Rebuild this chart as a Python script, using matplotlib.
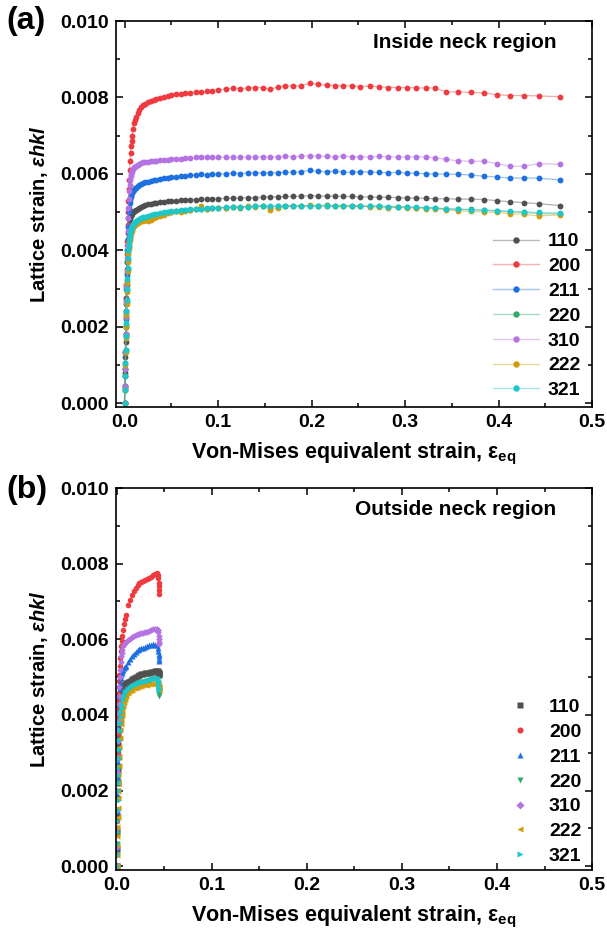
import matplotlib
matplotlib.use("Agg")
import matplotlib.pyplot as plt
import numpy as np
from matplotlib.colors import to_rgba
from matplotlib.ticker import MultipleLocator

plt.rcParams['font.family'] = ['Liberation Sans', 'DejaVu Sans']
plt.rcParams['font.weight'] = 'bold'
plt.rcParams['mathtext.fontset'] = 'custom'
plt.rcParams['mathtext.rm'] = 'Liberation Sans:bold'
plt.rcParams['mathtext.it'] = 'Liberation Sans:italic'
plt.rcParams['mathtext.bf'] = 'Liberation Sans:bold'

labels = ['110', '200', '211', '220', '310', '222', '321']
colors = ['#505050', '#ef3b3f', '#1e6fe0', '#2fa86b', '#b472e3', '#d09c08', '#1cc6c9']
markers_b = ['s', 'o', '^', 'v', 'D', '<', '>']

# ---- (a) inside neck region, lattice strain in units of 1e-3 ----
x_a = [0, 0.0003, 0.0006, 0.0009, 0.0012, 0.0015, 0.0018, 0.0021, 0.0024, 0.0027,
       0.003, 0.0034, 0.0038, 0.0042, 0.0046, 0.005, 0.0055, 0.006, 0.0065, 0.007,
       0.0075, 0.008, 0.009, 0.010,
       0.011, 0.012, 0.014, 0.016, 0.018, 0.020, 0.022, 0.025, 0.028, 0.031,
       0.034, 0.038, 0.042, 0.046, 0.050, 0.055, 0.060, 0.065, 0.070, 0.076,
       0.082, 0.088, 0.094, 0.100,
       0.108, 0.116, 0.124, 0.132, 0.140, 0.148, 0.156, 0.164, 0.172, 0.180,
       0.189, 0.198, 0.207, 0.216, 0.225, 0.234, 0.243, 0.252, 0.262, 0.272,
       0.282, 0.292, 0.302, 0.312, 0.322, 0.332, 0.344, 0.357, 0.370, 0.384,
       0.398, 0.412, 0.427, 0.443, 0.466]

a_110 = [0, 0.4, 0.8, 1.2, 1.6, 2.0, 2.4, 2.75, 3.1, 3.4, 3.7, 4.0, 4.25, 4.45, 4.6, 4.7,
         4.78, 4.84, 4.89, 4.93, 4.96, 4.98, 5.0, 5.02,
         5.04, 5.06, 5.09, 5.12, 5.14, 5.16, 5.18, 5.20, 5.22, 5.23, 5.25, 5.26, 5.27, 5.28,
         5.29, 5.30, 5.31, 5.32, 5.33, 5.33, 5.34, 5.34, 5.35, 5.35,
         5.36, 5.37, 5.37, 5.38, 5.38, 5.39, 5.40, 5.40, 5.41, 5.41, 5.42, 5.43, 5.42, 5.42,
         5.42, 5.41, 5.41, 5.40, 5.40, 5.39, 5.39, 5.38, 5.37, 5.37, 5.36, 5.35, 5.35, 5.34,
         5.34, 5.33, 5.30, 5.27, 5.25, 5.22, 5.17]
a_200 = [0, 0.45, 0.9, 1.35, 1.8, 2.25, 2.7, 3.1, 3.5, 3.9, 4.25, 4.65, 5.0, 5.3, 5.6, 5.85,
         6.1, 6.35, 6.55, 6.72, 6.86, 6.98, 7.17, 7.32,
         7.42, 7.5, 7.6, 7.68, 7.74, 7.79, 7.83, 7.87, 7.91, 7.94, 7.97, 7.99, 8.02, 8.04,
         8.06, 8.08, 8.09, 8.11, 8.12, 8.14, 8.15, 8.16, 8.18, 8.19,
         8.22, 8.24, 8.23, 8.25, 8.26, 8.26, 8.21, 8.28, 8.29, 8.30, 8.31, 8.38, 8.34, 8.32,
         8.31, 8.31, 8.30, 8.28, 8.30, 8.28, 8.26, 8.26, 8.26, 8.25, 8.25, 8.25, 8.14, 8.15,
         8.13, 8.12, 8.07, 8.05, 8.05, 8.04, 8.02]
a_211 = [0, 0.45, 0.9, 1.35, 1.8, 2.2, 2.6, 3.0, 3.35, 3.7, 4.0, 4.3, 4.6, 4.85, 5.0, 5.12,
         5.24, 5.33, 5.4, 5.45, 5.49, 5.52, 5.56, 5.59,
         5.62, 5.64, 5.68, 5.71, 5.74, 5.76, 5.78, 5.80, 5.82, 5.84, 5.85, 5.87, 5.88, 5.89,
         5.91, 5.92, 5.94, 5.95, 5.96, 5.97, 5.99, 5.98, 6.00, 6.01,
         6.00, 6.02, 6.01, 6.02, 6.03, 6.02, 6.03, 6.03, 6.05, 6.04, 6.06, 6.09, 6.07, 6.06,
         6.07, 6.05, 6.04, 6.06, 6.05, 6.04, 6.03, 6.04, 6.02, 6.02, 6.00, 6.00, 5.99, 5.99,
         5.97, 5.94, 5.92, 5.89, 5.89, 5.89, 5.84]
a_220 = [0, 0.35, 0.7, 1.05, 1.4, 1.75, 2.05, 2.35, 2.65, 2.95, 3.2, 3.5, 3.75, 3.95, 4.1, 4.23,
         4.33, 4.41, 4.47, 4.52, 4.56, 4.6, 4.65, 4.69,
         4.72, 4.74, 4.77, 4.79, 4.81, 4.83, 4.85, 4.87, 4.89, 4.91, 4.93, 4.95, 4.97, 4.99,
         5.00, 5.02, 5.03, 5.05, 5.06, 5.07, 5.08, 5.09, 5.10, 5.11,
         5.12, 5.13, 5.12, 5.14, 5.15, 5.17, 5.14, 5.16, 5.15, 5.17, 5.16, 5.17, 5.16, 5.18,
         5.16, 5.16, 5.17, 5.15, 5.15, 5.16, 5.14, 5.13, 5.14, 5.12, 5.12, 5.11, 5.09, 5.08,
         5.07, 5.05, 5.04, 5.01, 4.99, 4.96, 4.95]
a_310 = [0, 0.45, 0.9, 1.35, 1.8, 2.25, 2.65, 3.05, 3.45, 3.8, 4.15, 4.5, 4.85, 5.1, 5.35, 5.55,
         5.72, 5.85, 5.94, 6.0, 6.05, 6.09, 6.14, 6.17,
         6.19, 6.21, 6.24, 6.26, 6.28, 6.30, 6.31, 6.32, 6.33, 6.34, 6.35, 6.36, 6.37, 6.37,
         6.38, 6.39, 6.40, 6.41, 6.42, 6.43, 6.44, 6.44, 6.43, 6.43,
         6.44, 6.43, 6.43, 6.44, 6.44, 6.45, 6.44, 6.45, 6.46, 6.45, 6.46, 6.48, 6.46, 6.46,
         6.45, 6.47, 6.45, 6.45, 6.44, 6.46, 6.45, 6.44, 6.44, 6.45, 6.44, 6.42, 6.38, 6.34,
         6.33, 6.33, 6.27, 6.20, 6.20, 6.27, 6.25]
a_222 = [0, 0.35, 0.7, 1.0, 1.35, 1.7, 2.0, 2.3, 2.6, 2.9, 3.15, 3.45, 3.7, 3.9, 4.05, 4.18,
         4.28, 4.36, 4.42, 4.47, 4.51, 4.55, 4.6, 4.63,
         4.66, 4.68, 4.71, 4.74, 4.76, 4.77, 4.79, 4.78, 4.80, 4.84, 4.86, 4.90, 4.93, 4.97,
         5.00, 5.02, 4.99, 5.04, 5.06, 5.08, 5.15, 5.09, 5.12, 5.11,
         5.12, 5.14, 5.13, 5.16, 5.14, 5.17, 5.06, 5.12, 5.15, 5.17, 5.16, 5.18, 5.16, 5.17,
         5.15, 5.16, 5.15, 5.16, 5.14, 5.14, 5.12, 5.13, 5.11, 5.11, 5.09, 5.09, 5.06, 5.04,
         5.02, 5.00, 4.99, 4.96, 4.94, 4.90, 4.93]
a_321 = [0, 0.35, 0.7, 1.05, 1.4, 1.75, 2.1, 2.4, 2.7, 3.0, 3.25, 3.55, 3.8, 4.0, 4.15, 4.28,
         4.38, 4.46, 4.52, 4.57, 4.61, 4.64, 4.69, 4.72,
         4.75, 4.77, 4.80, 4.83, 4.85, 4.87, 4.88, 4.90, 4.92, 4.94, 4.96, 4.98, 4.99, 5.01,
         5.02, 5.04, 5.05, 5.06, 5.07, 5.08, 5.09, 5.10, 5.11, 5.12,
         5.13, 5.13, 5.14, 5.14, 5.15, 5.15, 5.16, 5.15, 5.16, 5.16, 5.17, 5.16, 5.17, 5.17,
         5.16, 5.17, 5.16, 5.16, 5.15, 5.15, 5.14, 5.14, 5.13, 5.13, 5.12, 5.11, 5.08, 5.07,
         5.06, 5.05, 5.03, 5.02, 5.01, 4.99, 4.98]

# ---- (b) outside neck region, lattice strain in units of 1e-3 ----
x_b = [0, 0.0002, 0.0004, 0.0006, 0.0008, 0.001, 0.0012, 0.0014, 0.0016, 0.0018,
       0.002, 0.0023, 0.0026, 0.003, 0.0035, 0.004, 0.0045, 0.005, 0.0055, 0.006,
       0.007, 0.008, 0.009, 0.010,
       0.012, 0.014, 0.016, 0.018, 0.020, 0.022, 0.024, 0.026, 0.028, 0.030,
       0.032, 0.034, 0.036, 0.038, 0.040, 0.042,
       0.0435, 0.044, 0.0443, 0.0446, 0.0448, 0.045]

b_110 = [0, 0.45, 0.9, 1.35, 1.8, 2.2, 2.55, 2.9, 3.2, 3.45, 3.65, 3.9, 4.1, 4.3, 4.45, 4.55,
         4.62, 4.67, 4.7, 4.73, 4.77, 4.8, 4.82, 4.84,
         4.87, 4.91, 4.95, 4.98, 5.01, 5.04, 5.06, 5.08, 5.09, 5.10, 5.11, 5.12, 5.13, 5.14,
         5.15, 5.16,
         5.16, 5.14, 5.12, 5.1, 5.08, 5.06]
b_200 = [0, 0.6, 1.2, 1.8, 2.4, 3.0, 3.5, 3.95, 4.2, 4.4, 4.55, 4.75, 4.9, 5.05, 5.3, 5.5,
         5.68, 5.82, 5.95, 6.08, 6.25, 6.4, 6.53, 6.65,
         6.9, 7.05, 7.17, 7.27, 7.36, 7.43, 7.48, 7.52, 7.55, 7.58, 7.6, 7.62, 7.66, 7.70,
         7.73, 7.74,
         7.70, 7.62, 7.5, 7.4, 7.3, 7.2]
b_211 = [0, 0.5, 1.0, 1.45, 1.9, 2.35, 2.75, 3.1, 3.4, 3.65, 3.85, 4.1, 4.3, 4.5, 4.7, 4.85,
         4.97, 5.05, 5.1, 5.15, 5.2, 5.24, 5.27, 5.3,
         5.4, 5.48, 5.55, 5.61, 5.67, 5.71, 5.74, 5.76, 5.78, 5.8, 5.82, 5.84, 5.86, 5.88,
         5.86, 5.84,
         5.78, 5.7, 5.62, 5.55, 5.48, 5.43]
b_220 = [0, 0.3, 0.6, 0.9, 1.2, 1.5, 1.75, 2.0, 2.2, 2.4, 2.6, 2.85, 3.05, 3.3, 3.55, 3.75,
         3.9, 4.03, 4.13, 4.22, 4.36, 4.46, 4.53, 4.58,
         4.65, 4.7, 4.74, 4.77, 4.8, 4.82, 4.84, 4.85, 4.86, 4.88, 4.89, 4.91, 4.93, 4.95,
         4.96, 4.96,
         4.93, 4.85, 4.75, 4.65, 4.56, 4.5]
b_310 = [0, 0.5, 1.0, 1.5, 2.0, 2.5, 2.9, 3.3, 3.6, 3.85, 4.05, 4.3, 4.5, 4.75, 5.0, 5.2,
         5.4, 5.55, 5.65, 5.73, 5.82, 5.87, 5.9, 5.93,
         5.98, 6.02, 6.06, 6.09, 6.11, 6.13, 6.15, 6.16, 6.17, 6.19, 6.2, 6.22, 6.24, 6.26,
         6.28, 6.28,
         6.25, 6.18, 6.1, 6.0, 5.92, 5.87]
b_222 = [0, 0.3, 0.55, 0.8, 1.05, 1.3, 1.55, 1.8, 2.0, 2.2, 2.4, 2.65, 2.9, 3.15, 3.4, 3.6,
         3.75, 3.9, 4.0, 4.1, 4.24, 4.35, 4.43, 4.49,
         4.57, 4.62, 4.66, 4.7, 4.72, 4.74, 4.76, 4.77, 4.78, 4.79, 4.8, 4.81, 4.82, 4.83,
         4.84, 4.84,
         4.82, 4.78, 4.74, 4.7, 4.68, 4.66]
b_321 = [0, 0.3, 0.6, 0.9, 1.2, 1.5, 1.75, 2.0, 2.2, 2.4, 2.6, 2.85, 3.1, 3.35, 3.6, 3.8,
         3.95, 4.08, 4.18, 4.27, 4.4, 4.5, 4.57, 4.62,
         4.68, 4.72, 4.76, 4.79, 4.81, 4.83, 4.85, 4.86, 4.87, 4.89, 4.9, 4.92, 4.94, 4.96,
         4.98, 4.99,
         4.98, 4.93, 4.87, 4.8, 4.72, 4.65]

series_a = [a_110, a_200, a_211, a_220, a_310, a_222, a_321]
series_b = [b_110, b_200, b_211, b_220, b_310, b_222, b_321]


def style_axes(ax, xmin):
    ax.set_xlim(xmin, 0.5)
    ax.set_ylim(-0.0001, 0.010)
    ax.xaxis.set_major_locator(MultipleLocator(0.1))
    ax.xaxis.set_minor_locator(MultipleLocator(0.05))
    ax.yaxis.set_major_locator(MultipleLocator(0.002))
    ax.yaxis.set_minor_locator(MultipleLocator(0.001))
    ax.xaxis.set_major_formatter(plt.FuncFormatter(lambda v, p: f"{v:.1f}"))
    ax.yaxis.set_major_formatter(plt.FuncFormatter(lambda v, p: f"{v:.3f}"))
    ax.tick_params(which='both', direction='in', top=True, right=True, width=1.1)
    ax.tick_params(which='major', length=5, labelsize=14, pad=5)
    ax.tick_params(which='minor', length=3)
    for s in ax.spines.values():
        s.set_linewidth(1.2)
    ax.set_xlabel(r"Von-Mises equivalent strain, $\mathrm{ε_{eq}}$", fontsize=15.5,
                  fontweight='bold', labelpad=7)
    ax.set_ylabel(r"Lattice strain, $\mathit{εhkl}$", fontsize=14.5, fontweight='bold',
                  labelpad=7)


fig = plt.figure(figsize=(6.07, 9.34), dpi=100)
ax1 = fig.add_axes([0.1905, 0.5642, 0.785, 0.4133])
ax2 = fig.add_axes([0.1905, 0.0685, 0.785, 0.4090])

handles_a = []
for lab, col, ys in zip(labels, colors, series_a):
    y = np.array(ys) / 1000
    ax1.plot(x_a, y, color=col, lw=0.9, alpha=0.45)
    ax1.plot(x_a, y, ls='none', marker='o', ms=4.2, mec='none', color=col)
    h, = ax1.plot([], [], color=to_rgba(col, 0.4), lw=1.0, marker='o', ms=4.6,
                  mec='none', mfc=col, label=lab)
    handles_a.append(h)

for lab, col, mk, ys in zip(labels, colors, markers_b, series_b):
    y = np.array(ys) / 1000
    ms = 3.4 if mk == 'D' else 4.0
    ax2.plot(x_b, y, ls='none', marker=mk, ms=ms, mec='none', color=col, label=lab)

style_axes(ax1, -0.0095)
style_axes(ax2, -0.001)

ax1.legend(handles=handles_a, loc='lower right', bbox_to_anchor=(1.0, -0.01), frameon=False,
           fontsize=14, handlelength=2.4, handletextpad=0.45, labelspacing=0.37,
           borderaxespad=0.2)

ax2.legend(loc='lower right', bbox_to_anchor=(1.0, -0.015), frameon=False,
           fontsize=14, handlelength=1.0, handletextpad=1.0, labelspacing=0.37,
           borderaxespad=0.15, markerscale=1.1)

ax1.text(0.925, 0.945, "Inside neck region", transform=ax1.transAxes, ha='right',
         va='center', fontsize=15, fontweight='bold')
ax2.text(0.925, 0.945, "Outside neck region", transform=ax2.transAxes, ha='right',
         va='center', fontsize=15, fontweight='bold')

fig.text(0.01, 0.978, "(a)", fontsize=23, fontweight='bold', va='center', ha='left')
fig.text(0.01, 0.475, "(b)", fontsize=23, fontweight='bold', va='center', ha='left')

fig.savefig("out.png", dpi=100)
